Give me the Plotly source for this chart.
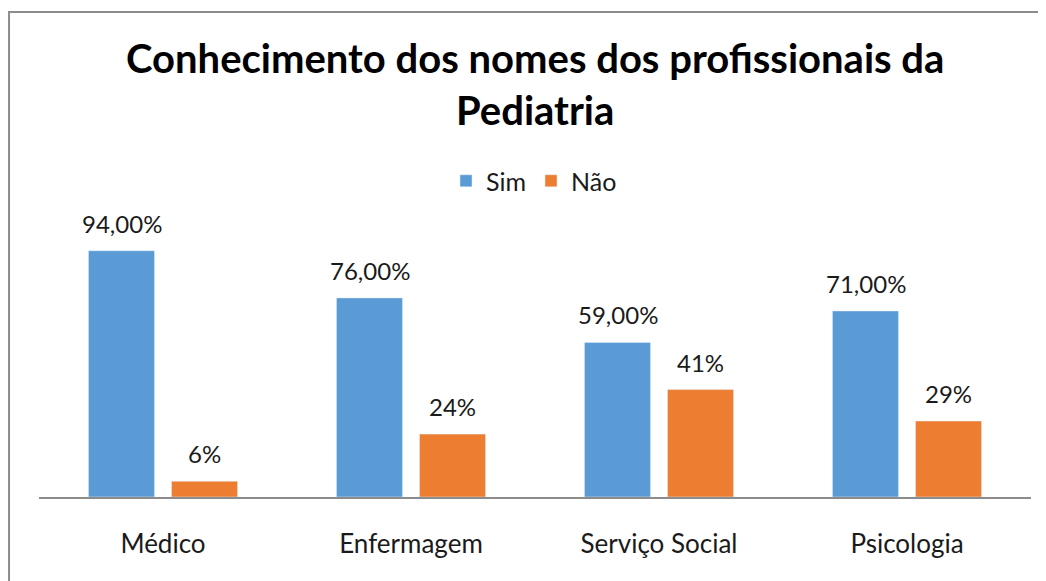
import plotly.graph_objects as go

categories = ["Médico", "Enfermagem", "Serviço Social", "Psicologia"]
sim_values = [94, 76, 59, 71]
nao_values = [6, 24, 41, 29]
sim_labels = ["94,00%", "76,00%", "59,00%", "71,00%"]
nao_labels = ["6%", "24%", "41%", "29%"]

BLUE = "#5B9BD5"
ORANGE = "#ED7D31"
FONT = "Lato"
TXT = "#1a1a1a"

fig = go.Figure()
fig.add_trace(go.Bar(name="Sim", x=categories, y=sim_values, marker_color=BLUE))
fig.add_trace(go.Bar(name="Não", x=categories, y=nao_values, marker_color=ORANGE))

annotations = []
for cat, v, t in zip(categories, sim_values, sim_labels):
    annotations.append(dict(x=cat, y=v, text=t, showarrow=False, xshift=-41.5,
                            yanchor="bottom", yshift=11,
                            font=dict(family=FONT, size=24, color=TXT)))
for cat, v, t in zip(categories, nao_values, nao_labels):
    annotations.append(dict(x=cat, y=v, text=t, showarrow=False, xshift=41.5,
                            yanchor="bottom", yshift=11,
                            font=dict(family=FONT, size=24, color=TXT)))

annotations.append(dict(xref="paper", yref="paper", x=0.5, y=1.775,
                        text="<b>Conhecimento dos nomes dos profissionais da<br>Pediatria</b>",
                        showarrow=False, yanchor="top", align="center",
                        font=dict(family=FONT, size=40, color="#000000")))

fig.update_layout(
    width=1046, height=581,
    margin=dict(l=31, r=23, t=227, b=92),
    paper_bgcolor="white", plot_bgcolor="white",
    barmode="group", bargap=0.33, bargroupgap=0.205,
    showlegend=True,
    legend=dict(orientation="h", x=0.499, xanchor="center", y=1.206, yanchor="middle",
                font=dict(family=FONT, size=25, color=TXT),
                itemwidth=30, traceorder="normal"),
    annotations=annotations,
    xaxis=dict(showline=True, linecolor="#8c8c8c", linewidth=2, ticks="",
               tickfont=dict(family=FONT, size=26, color=TXT),
               ticklabelstandoff=23, showgrid=False),
    yaxis=dict(range=[0, 100], visible=False, showgrid=False, zeroline=False),
    shapes=[dict(type="rect", xref="paper", yref="paper",
                 x0=-0.0302, x1=1.2, y0=-1.0, y1=1.851,
                 line=dict(color="#8c8c8c", width=2), layer="below")],
)

fig.write_html("out.html")
